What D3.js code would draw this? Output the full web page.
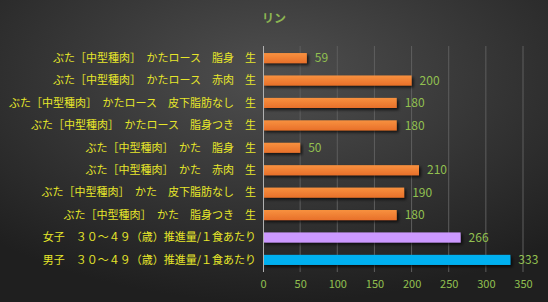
<!DOCTYPE html>
<html>
<head>
<meta charset="utf-8">
<script src="https://cdn.jsdelivr.net/npm/d3@7"></script>
<style>
  body { margin: 0; background: #2b2b2b; }
  svg text { font-family: "Noto Sans CJK JP", "Noto Sans", sans-serif; }
</style>
</head>
<body>
<div id="chart"></div>
<script>
var categories = [
    "ぶた［中型種肉］　かたロース　脂身　生",
    "ぶた［中型種肉］　かたロース　赤肉　生",
    "ぶた［中型種肉］　かたロース　皮下脂肪なし　生",
    "ぶた［中型種肉］　かたロース　脂身つき　生",
    "ぶた［中型種肉］　かた　脂身　生",
    "ぶた［中型種肉］　かた　赤肉　生",
    "ぶた［中型種肉］　かた　皮下脂肪なし　生",
    "ぶた［中型種肉］　かた　脂身つき　生",
    "女子　３０～４９（歳）推進量/１食あたり",
    "男子　３０～４９（歳）推進量/１食あたり"
];
var values = [59, 200, 180, 180, 50, 210, 190, 180, 266, 333];
var kinds = ["food", "food", "food", "food", "food", "food", "food", "food", "female", "male"];
var ticks = [0, 50, 100, 150, 200, 250, 300, 350];

var width = 548, height = 302;
var svg = d3.select("#chart").append("svg")
    .attr("width", width)
    .attr("height", height);

var defs = svg.append("defs");

// background
var bg = defs.append("radialGradient")
    .attr("id", "bg")
    .attr("cx", "50%").attr("cy", "25%").attr("r", "75%");
bg.append("stop").attr("offset", "0%").attr("stop-color", "#4f4f4f");
bg.append("stop").attr("offset", "100%").attr("stop-color", "#1f1f1f");

var og = defs.append("linearGradient")
    .attr("id", "orange")
    .attr("x1", 0).attr("y1", 0).attr("x2", 0).attr("y2", 1);
og.append("stop").attr("offset", "0%").attr("stop-color", "#f8913f");
og.append("stop").attr("offset", "100%").attr("stop-color", "#e8702a");

var sh = defs.append("filter").attr("id", "shadow")
    .attr("x", "-5%").attr("y", "-30%").attr("width", "115%").attr("height", "180%");
sh.append("feDropShadow")
    .attr("dx", 2).attr("dy", 2).attr("stdDeviation", 1.5)
    .attr("flood-color", "#000").attr("flood-opacity", 0.7);

svg.append("rect")
    .attr("width", width).attr("height", height)
    .attr("fill", "url(#bg)");

var fills = { food: "url(#orange)", female: "#cc99ff", male: "#00b0f0" };

var x = d3.scaleLinear().domain([0, 350]).range([263, 523]);
var y = d3.scaleBand().domain(categories).range([47, 271]).paddingInner(0.55).paddingOuter(0.27);

// title
svg.append("text")
    .attr("x", 274).attr("y", 23)
    .attr("text-anchor", "middle")
    .attr("fill", "#8db552")
    .attr("font-size", 12)
    .attr("font-weight", "bold")
    .text("リン");

// gridlines
svg.append("g")
    .selectAll("line")
    .data(ticks.slice(1))
    .enter().append("line")
    .attr("x1", d => x(d)).attr("x2", d => x(d))
    .attr("y1", 46).attr("y2", 272)
    .attr("stroke", "#5e5e5e")
    .attr("stroke-width", 1);

// x axis labels
var xAxis = d3.axisBottom(x).tickValues(ticks).tickSize(0).tickPadding(0);
var gx = svg.append("g")
    .attr("transform", "translate(0,280)")
    .call(xAxis);
gx.select(".domain").remove();
gx.selectAll("text")
    .attr("fill", "#92c050")
    .attr("font-size", 11)
    .attr("dy", "0.71em");

// bars
svg.append("g")
    .selectAll("rect")
    .data(values)
    .enter().append("rect")
    .attr("x", x(0))
    .attr("y", (d, i) => y(categories[i]))
    .attr("width", d => x(d) - x(0))
    .attr("height", y.bandwidth())
    .attr("fill", (d, i) => fills[kinds[i]])
    .attr("filter", "url(#shadow)");

// axis line
svg.append("line")
    .attr("x1", x(0) + 0.5).attr("x2", x(0) + 0.5)
    .attr("y1", 46).attr("y2", 272)
    .attr("stroke", "#b0b0b0");

// value labels
svg.append("g")
    .selectAll("text")
    .data(values)
    .enter().append("text")
    .attr("x", d => x(d) + 8)
    .attr("y", (d, i) => y(categories[i]) + y.bandwidth() / 2)
    .attr("dy", "0.35em")
    .attr("fill", "#92c050")
    .attr("font-size", 12)
    .text(d => d);

// category labels
svg.append("g")
    .selectAll("text")
    .data(categories)
    .enter().append("text")
    .attr("x", 256)
    .attr("y", d => y(d) + y.bandwidth() / 2)
    .attr("dy", "0.35em")
    .attr("text-anchor", "end")
    .attr("fill", "#e6e62a")
    .attr("font-size", 11)
    .text(d => d);
</script>
</body>
</html>
